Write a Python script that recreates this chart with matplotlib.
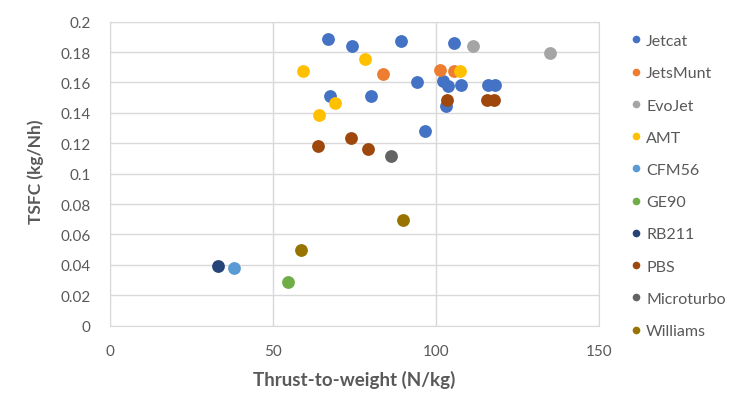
import matplotlib.pyplot as plt
from matplotlib.lines import Line2D

plt.rcParams['font.family'] = ['Lato', 'DejaVu Sans']

# series: name, x (thrust-to-weight), y (TSFC)
names = ['Jetcat', 'JetsMunt', 'EvoJet', 'AMT', 'CFM56', 'GE90', 'RB211', 'PBS', 'Microturbo', 'Williams']
colors = ['#4472C4', '#ED7D31', '#A5A5A5', '#FFC000', '#5B9BD5', '#70AD47', '#264478', '#9E480E', '#636363', '#997300']

jetcat_x = [67.0, 74.1, 89.2, 105.6, 67.5, 80.2, 94.1, 102.0, 103.8, 107.8, 116.0, 118.0, 103.1, 96.6]
jetcat_y = [0.1886, 0.1842, 0.1875, 0.1862, 0.151, 0.1509, 0.1605, 0.1608, 0.1579, 0.1586, 0.1586, 0.1586, 0.1443, 0.1279]
jetsmunt_x = [83.8, 101.1, 105.5]
jetsmunt_y = [0.1656, 0.1684, 0.1678]
evojet_x = [111.2, 135.0]
evojet_y = [0.1842, 0.1792]
amt_x = [59.3, 78.1, 69.1, 64.2, 107.4]
amt_y = [0.1674, 0.1755, 0.1463, 0.1386, 0.1676]
cfm56_x = [38.0]
cfm56_y = [0.0382]
ge90_x = [54.5]
ge90_y = [0.0285]
rb211_x = [33.2]
rb211_y = [0.0391]
pbs_x = [63.9, 73.9, 79.0, 103.5, 115.7, 117.8]
pbs_y = [0.1184, 0.1235, 0.1164, 0.1485, 0.1483, 0.1483]
microturbo_x = [86.3]
microturbo_y = [0.1114]
williams_x = [58.7, 89.9]
williams_y = [0.050, 0.0693]

xs = [jetcat_x, jetsmunt_x, evojet_x, amt_x, cfm56_x, ge90_x, rb211_x, pbs_x, microturbo_x, williams_x]
ys = [jetcat_y, jetsmunt_y, evojet_y, amt_y, cfm56_y, ge90_y, rb211_y, pbs_y, microturbo_y, williams_y]

xticks = [0, 50, 100, 150]
yticks = [0, 0.02, 0.04, 0.06, 0.08, 0.1, 0.12, 0.14, 0.16, 0.18, 0.2]
ylabels = ['0', '0.02', '0.04', '0.06', '0.08', '0.1', '0.12', '0.14', '0.16', '0.18', '0.2']

fig = plt.figure(figsize=(7.4, 4.14), dpi=100)
ax = fig.add_axes([0.1486, 0.2109, 0.6609, 0.7343])

for x, y, c, n in zip(xs, ys, colors, names):
    ax.scatter(x, y, s=85, color=c, label=n, zorder=3, linewidths=0)

ax.set_xlim(0, 150)
ax.set_ylim(0, 0.2)
ax.set_xticks(xticks)
ax.set_yticks(yticks, ylabels)
ax.grid(True, color='#D9D9D9', lw=1, zorder=0)
for s in ax.spines.values():
    s.set_color('#D9D9D9')
ax.tick_params(length=0, labelsize=11, labelcolor='#595959')
ax.tick_params(axis='x', pad=13)
ax.tick_params(axis='y', pad=14)

ax.set_xlabel('Thrust-to-weight (N/kg)', fontsize=13.5, fontweight='bold', color='#595959', labelpad=9)
ax.set_ylabel('TSFC (kg/Nh)', fontsize=12.5, fontweight='bold', color='#595959')
ax.yaxis.set_label_coords(-0.135, 0.51)

handles = [Line2D([], [], ls='', marker='o', ms=5.5, color=c, markeredgewidth=0) for c in colors]
fig.legend(handles, names, loc='upper left', bbox_to_anchor=(0.842, 0.935), frameon=False,
           fontsize=11.5, labelcolor='#595959', labelspacing=1.13, handlelength=0.6,
           handletextpad=0.34, borderpad=0)

fig.savefig('out.png', dpi=100)
